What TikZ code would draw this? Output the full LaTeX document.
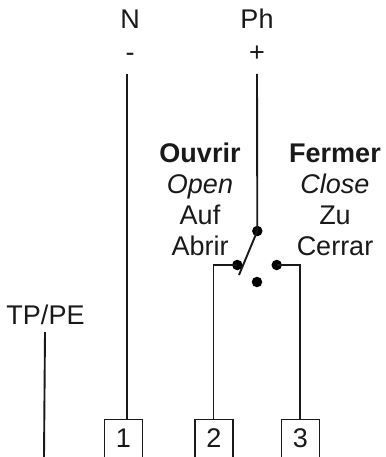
\documentclass[tikz,border=0pt]{standalone}
\usepackage{fontspec}
\setmainfont{Liberation Sans}
\begin{document}
\begin{tikzpicture}[x=1pt,y=-1pt,
  wire/.style={line width=1.9pt,black!90},
  lbl/.style={font=\fontsize{27}{30}\selectfont,text=black!90,anchor=base,inner sep=0pt},
  termbox/.style={draw=black!90,line width=1.8pt,minimum width=38pt,minimum height=38pt,inner sep=0pt,anchor=north,font=\fontsize{27}{30}\selectfont,text=black!90},
  contact/.style={circle,fill=black,inner sep=0pt,minimum size=10.5pt}]
\useasboundingbox (0,0) rectangle (385,457);
\fill[white] (0,0) rectangle (385,457);
\node[lbl] (n) at (130,29) {N};
\node[lbl] (ph) at (257,29) {Ph};
\node[lbl] (minus) at (130,62) {-};
\node[lbl] (plus) at (257,62) {+};
\node[lbl] (ouv) at (200,163) {\bfseries Ouvrir};
\node[lbl] (open) at (200,193) {\itshape Open};
\node[lbl] (auf) at (200,224) {Auf};
\node[lbl] (abr) at (200,255) {Abrir};
\node[lbl] (fer) at (335,163) {\bfseries Fermer};
\node[lbl] (close) at (335,193) {\itshape Close};
\node[lbl] (zu) at (335,224) {Zu};
\node[lbl] (cer) at (335,255) {Cerrar};
\node[lbl] (pe) at (45.5,324) {TP/PE};
\node[termbox] (t1) at (123.5,418.5) {1};
\node[termbox] (t2) at (214,418.5) {2};
\node[termbox] (t3) at (300.5,418.5) {3};
\node[contact] (c0) at (257.3,231) {};
\node[contact] (c1) at (237.3,265) {};
\node[contact] (c2) at (276.7,265) {};
\node[contact] (c3) at (257,282) {};
\coordinate (ntop) at (127,74);
\coordinate (phtop) at (257,74);
\coordinate (petop) at (45,332);
\coordinate (pebot) at (44,457);
\coordinate (levend) at (239,275);
\coordinate (lcorner) at (213.5,265);
\coordinate (rcorner) at (300.3,265);
\draw[wire] (ntop) -- (ntop |- t1.north);
\draw[wire] (phtop) -- (c0.center);
\draw[wire] (c0.center) -- (levend);
\draw[wire] (c1.center) -- (lcorner) -- (lcorner |- t2.north);
\draw[wire] (c2.center) -- (rcorner) -- (rcorner |- t3.north);
\draw[wire] (petop) -- (pebot);
\end{tikzpicture}
\end{document}
